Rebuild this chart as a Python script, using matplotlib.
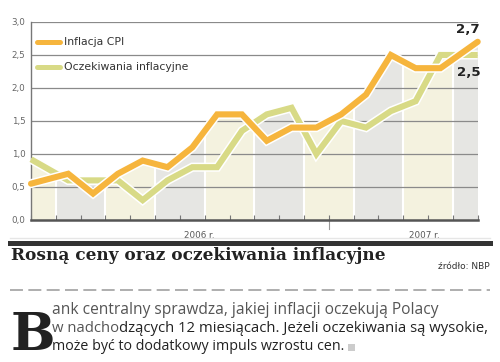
import numpy as np
import matplotlib
matplotlib.use("Agg")
import matplotlib.pyplot as plt
import matplotlib.patheffects as pe
from matplotlib.transforms import blended_transform_factory

# ---- data ----
months = ["I", "II", "III", "IV", "V", "VI", "VII", "VIII", "IX", "X", "XI", "XII",
          "I", "II", "III", "IV", "V", "VI"]
cpi = [0.55, 0.7, 0.4, 0.7, 0.9, 0.8, 1.1, 1.6, 1.6, 1.2, 1.4, 1.4,
       1.6, 1.9, 2.5, 2.3, 2.3, 2.7]
expect = [0.92, 0.6, 0.6, 0.6, 0.3, 0.6, 0.8, 0.8, 1.35, 1.6, 1.7, 1.0,
          1.5, 1.4, 1.65, 1.8, 2.5, 2.5]
yticks = [0.0, 0.5, 1.0, 1.5, 2.0, 2.5, 3.0]
ytick_labels = ["0,0", "0,5", "1,0", "1,5", "2,0", "2,5", "3,0"]
year_labels = ["2006 r.", "2007 r."]
year_label_pos = [6.77, 15.83]
legend_labels = ["Inflacja CPI", "Oczekiwania inflacyjne"]
end_labels = ["2,7", "2,5"]

ORANGE = "#F6B53D"
GREEN = "#D8DA86"
CREAM = "#F4F2DF"
GREY = "#E6E6E3"
NARROW = ["Liberation Sans Narrow", "DejaVu Sans"]

n = len(months)
x = np.arange(n) + 0.5
x[0] = 0.0
x[-1] = n

fig = plt.figure(figsize=(5.0, 3.62), dpi=100)
ax = fig.add_axes([0.062, 0.3923, 0.8934, 0.547])
ax.set_xlim(0, n)
ax.set_ylim(0, 3.0)

# background bands (two months wide, offset by one)
edges = [0] + list(range(1, n, 2)) + [n]
for i in range(len(edges) - 1):
    col = CREAM if i % 2 == 0 else GREY
    ax.axvspan(edges[i], edges[i + 1], color=col, lw=0, zorder=0)
for e in edges[1:-1]:
    ax.axvline(e, color="white", lw=1.5, zorder=0.5)

# white above the upper envelope
xd = np.linspace(0, n, 2000)
env = np.maximum(np.interp(xd, x, cpi), np.interp(xd, x, expect))
ax.fill_between(xd, env, 3.0, color="white", lw=0, zorder=1)

# grid
for yv in yticks[1:]:
    ax.axhline(yv, color="#8a8a8a", lw=0.9, zorder=2)

# lines
lw = 4.4
halo = [pe.Stroke(linewidth=lw + 2.2, foreground="white"), pe.Normal()]
ax.plot(x, expect, color=GREEN, lw=lw, solid_joinstyle="miter",
        solid_capstyle="butt", zorder=3, clip_on=False, path_effects=halo)
ax.plot(x, cpi, color=ORANGE, lw=lw, solid_joinstyle="miter",
        solid_capstyle="round", zorder=4, clip_on=False, path_effects=halo)

# axes styling
for s in ["top", "right"]:
    ax.spines[s].set_visible(False)
ax.spines["left"].set_color("#777777")
ax.spines["left"].set_linewidth(1.0)
ax.spines["bottom"].set_color("#555555")
ax.spines["bottom"].set_linewidth(1.8)
ax.spines["bottom"].set_zorder(5)
ax.set_yticks(yticks)
ax.set_yticklabels(ytick_labels, fontsize=6.3, color="#666666", family=NARROW)
ax.tick_params(axis="y", length=0, pad=4)
ax.set_xticks(np.arange(0, n + 1))
ax.set_xticklabels([])
ax.tick_params(axis="x", direction="in", length=3.5, width=0.8, color="#777777")

trans = blended_transform_factory(ax.transData, ax.transAxes)
ax.plot([12, 12], [0, -0.045], color="#999999", lw=0.8, transform=trans, clip_on=False)
for lab, p in zip(year_labels, year_label_pos):
    ax.text(p, -0.055, lab, transform=trans, ha="center", va="top",
            fontsize=6.3, color="#555555", family=NARROW)

# legend (manual)
leg_y = [(220 - 42) / 66.0, (220 - 67) / 66.0]
for lab, col, yy in zip(legend_labels, [ORANGE, GREEN], leg_y):
    ax.plot([0.25, 1.18], [yy, yy], color=col, lw=3.6, solid_capstyle="round",
            zorder=6)
    ax.text(1.33, yy, lab, fontsize=7.8, color="#333333", va="center", ha="left",
            family=NARROW, zorder=6)

# end labels
ax.text(n + 0.1, cpi[-1] + 0.08, end_labels[0], fontsize=9.6, fontweight="bold",
        ha="right", va="bottom", color="#222222", zorder=6, clip_on=False)
ax.text(n + 0.1, expect[-1] - 0.17, end_labels[1], fontsize=9.6, fontweight="bold",
        ha="right", va="top", color="#222222", zorder=6, clip_on=False)

# ---- text block below ----
def fy(py):
    return 1 - py / 362.0

def fx(px):
    return px / 500.0

fig.add_artist(plt.Line2D([fx(10), fx(490)], [fy(237.5), fy(237.5)], color="#e6e6e6", lw=1.0))
fig.add_artist(plt.Line2D([fx(10), fx(490)], [fy(242.5), fy(242.5)], color="#333333", lw=3.6))
fig.text(fx(11), fy(255), "Rosną ceny oraz oczekiwania inflacyjne", fontsize=12.2,
         fontweight="bold", family="DejaVu Serif", color="#222222", va="center", ha="left")
fig.text(fx(490), fy(266.5), "źródło: NBP", fontsize=6.5, color="#333333", va="center", ha="right")
fig.add_artist(plt.Line2D([fx(10), fx(490)], [fy(290), fy(290)], color="#999999", lw=1.1,
                          dashes=(8.5, 3.5)))

fig.text(fx(11), fy(350), "B", fontsize=38, fontweight="bold", family="DejaVu Serif",
         color="#222222", va="baseline", ha="left")

body = ["Open Sans", "DejaVu Sans"]
fig.text(fx(52), fy(310), "ank centralny sprawdza, jakiej inflacji oczekują Polacy",
         color="#555555", va="center", ha="left", fontsize=11.2, family=body)
t1 = fig.text(fx(52), fy(328.5), "w nadcho", color="#555555", va="center", ha="left",
              fontsize=10.7, family=body)
fig.canvas.draw()
bb = t1.get_window_extent()
fig.text(bb.x1 / fig.bbox.width, fy(328.5), "dzących 12 miesiącach. Jeżeli oczekiwania są wysokie,",
         color="#222222", va="center", ha="left", fontsize=10.7, family=body)
t3 = fig.text(fx(52), fy(347), "może być to dodatkowy impuls wzrostu cen.", color="#222222",
              va="center", ha="left", fontsize=10.3, family=body)
fig.canvas.draw()
bb3 = t3.get_window_extent()
fig.add_artist(plt.Rectangle((bb3.x1 / fig.bbox.width + fx(4), fy(351)), fx(7), 7 / 362.0,
                             color="#cccccc", lw=0))

fig.savefig("out.png", dpi=100)
